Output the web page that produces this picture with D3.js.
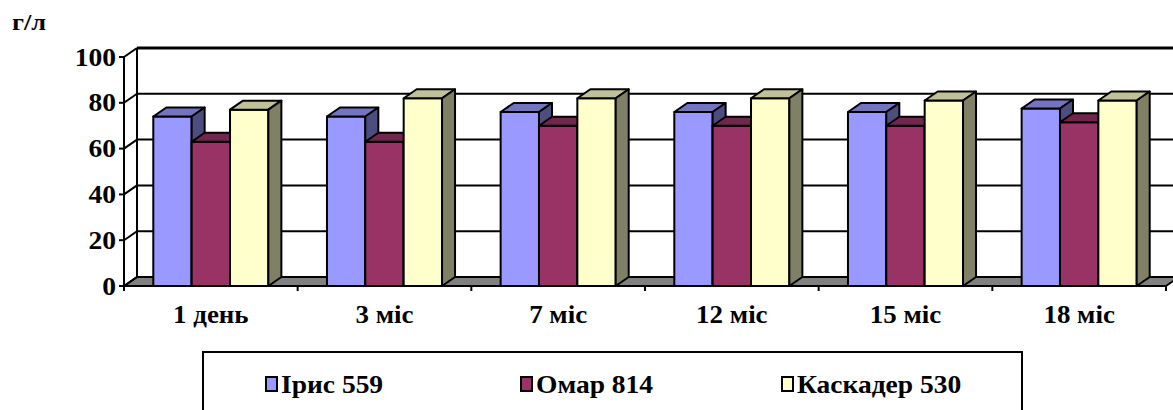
<!DOCTYPE html>
<html>
<head>
<meta charset="utf-8">
<script src="https://cdn.jsdelivr.net/npm/d3@7"></script>
<style>
  html, body { margin: 0; padding: 0; background: #fff; }
  svg { display: block; }
  svg text { font-family: "Liberation Serif", serif; font-weight: bold; fill: #000; }
</style>
</head>
<body>
<svg id="chart" width="1173" height="410"></svg>
<script>
// Categories (time since harvest) and series (varieties)
const categories = ["1 день", "3 міс", "7 міс", "12 міс", "15 міс", "18 міс"];
const seriesNames = ["Ірис 559", "Омар 814", "Каскадер 530"];
const irisValues = [74, 74, 76, 76, 76, 77.5];
const omarValues = [63, 63, 70, 70, 70, 71.5];
const kaskaderValues = [77, 82, 82, 82, 81, 81];
const yTicks = [0, 20, 40, 60, 80, 100];
const unitLabel = "г/л";

// face colours: front, top, side
const palette = [
  { front: "#9999FF", top: "#7373C0", side: "#4D4D80" },
  { front: "#993366", top: "#73264D", side: "#4D1A33" },
  { front: "#FFFFCC", top: "#C0C099", side: "#808066" }
];

const values = [irisValues, omarValues, kaskaderValues];

const svg = d3.select("#chart");

// bold serif text, slightly widened, placed at (px, py)
function label(sel, size, px, py) {
  return sel.style("font-family", "'Liberation Serif', serif")
    .style("font-weight", "700")
    .style("font-size", size + "px")
    .attr("x", 0).attr("y", 0)
    .attr("transform", (d, i) => `translate(${typeof px === "function" ? px(d, i) : px},${typeof py === "function" ? py(d, i) : py}) scale(1.1,1)`);
}

// geometry of the 3D box
const left = 124, right = 1166;
const depthX = 13, depthY = -9;

const x = d3.scaleBand().domain(categories).range([left, right]).paddingInner(0).paddingOuter(0);
const inner = d3.scaleBand().domain(seriesNames).range([29.3, x.bandwidth() - 29.3]).padding(0);
const y = d3.scaleLinear().domain([0, 100]).range([286, 57]);

// floor
const floorPts = [[left, y(0)], [right, y(0)], [right + depthX, y(0) + depthY], [left + depthX, y(0) + depthY]];
svg.append("polygon")
  .attr("points", floorPts.map(p => p.join(",")).join(" "))
  .attr("fill", "#808080")
  .attr("stroke", "#000").attr("stroke-width", 2).attr("stroke-linejoin", "round");

// back-wall gridlines
svg.append("g").selectAll("line").data(yTicks).join("line")
  .attr("x1", left + depthX).attr("x2", 1180)
  .attr("y1", d => y(d) + depthY).attr("y2", d => y(d) + depthY)
  .attr("stroke", "#000")
  .attr("stroke-width", d => d === 100 ? 3 : 2);

// back-wall left edge
svg.append("line")
  .attr("x1", left + depthX).attr("x2", left + depthX)
  .attr("y1", y(100) + depthY).attr("y2", y(0) + depthY)
  .attr("stroke", "#000").attr("stroke-width", 2);

// side-wall gridlines
svg.append("g").selectAll("line").data(yTicks).join("line")
  .attr("x1", left).attr("y1", d => y(d))
  .attr("x2", left + depthX).attr("y2", d => y(d) + depthY)
  .attr("stroke", "#000").attr("stroke-width", 2);

// bars
const barsG = svg.append("g");
categories.forEach((cat, ci) => {
  seriesNames.forEach((s, si) => {
    const v = values[si][ci];
    const x0 = x(cat) + inner(s);
    const w = inner.bandwidth();
    const yt = y(v), yb = y(0);
    const col = palette[si];
    const g = barsG.append("g")
      .attr("stroke", "#000").attr("stroke-width", 2).attr("stroke-linejoin", "round");
    g.append("rect")
      .attr("x", x0).attr("y", yt).attr("width", w).attr("height", yb - yt)
      .attr("fill", col.front);
    g.append("polygon")
      .attr("points", [[x0, yt], [x0 + w, yt], [x0 + w + depthX, yt + depthY], [x0 + depthX, yt + depthY]].map(p => p.join(",")).join(" "))
      .attr("fill", col.top);
    g.append("polygon")
      .attr("points", [[x0 + w, yt], [x0 + w + depthX, yt + depthY], [x0 + w + depthX, yb + depthY], [x0 + w, yb]].map(p => p.join(",")).join(" "))
      .attr("fill", col.side);
  });
});

// front value axis
const yAxis = svg.append("g");
yAxis.append("line")
  .attr("x1", left).attr("x2", left).attr("y1", y(0)).attr("y2", y(100))
  .attr("stroke", "#000").attr("stroke-width", 2);
yAxis.selectAll("line.tick").data(yTicks).join("line").attr("class", "tick")
  .attr("x1", left - 5).attr("x2", left).attr("y1", d => y(d)).attr("y2", d => y(d))
  .attr("stroke", "#000").attr("stroke-width", 2);
label(yAxis.selectAll("text").data(yTicks).join("text"), 25, left - 8, d => y(d) + 8.5)
  .attr("text-anchor", "end")
  .text(d => d);

// front category axis
const xAxis = svg.append("g");
xAxis.append("line")
  .attr("x1", left).attr("x2", right).attr("y1", y(0)).attr("y2", y(0))
  .attr("stroke", "#000").attr("stroke-width", 2);
const bounds = categories.map(c => x(c)).concat([right]);
xAxis.selectAll("line.tick").data(bounds).join("line").attr("class", "tick")
  .attr("x1", d => d).attr("x2", d => d).attr("y1", y(0)).attr("y2", y(0) + 5)
  .attr("stroke", "#000").attr("stroke-width", 2);
label(xAxis.selectAll("text").data(categories).join("text"), 24.5, d => x(d) + x.bandwidth() / 2, 323)
  .attr("text-anchor", "middle")
  .text(d => d);

// unit label
label(svg.append("text"), 24, 12, 30).text(unitLabel);

// legend
const legend = svg.append("g");
legend.append("rect")
  .attr("x", 203).attr("y", 352).attr("width", 819).attr("height", 80)
  .attr("fill", "#fff").attr("stroke", "#000").attr("stroke-width", 2);
const legendX = [266, 521, 782];
seriesNames.forEach((s, i) => {
  legend.append("rect")
    .attr("x", legendX[i]).attr("y", 377).attr("width", 11).attr("height", 14)
    .attr("fill", palette[i].front).attr("stroke", "#000").attr("stroke-width", 2);
  label(legend.append("text"), 25, legendX[i] + 15, 393)
    .text(s);
});
</script>
</body>
</html>
